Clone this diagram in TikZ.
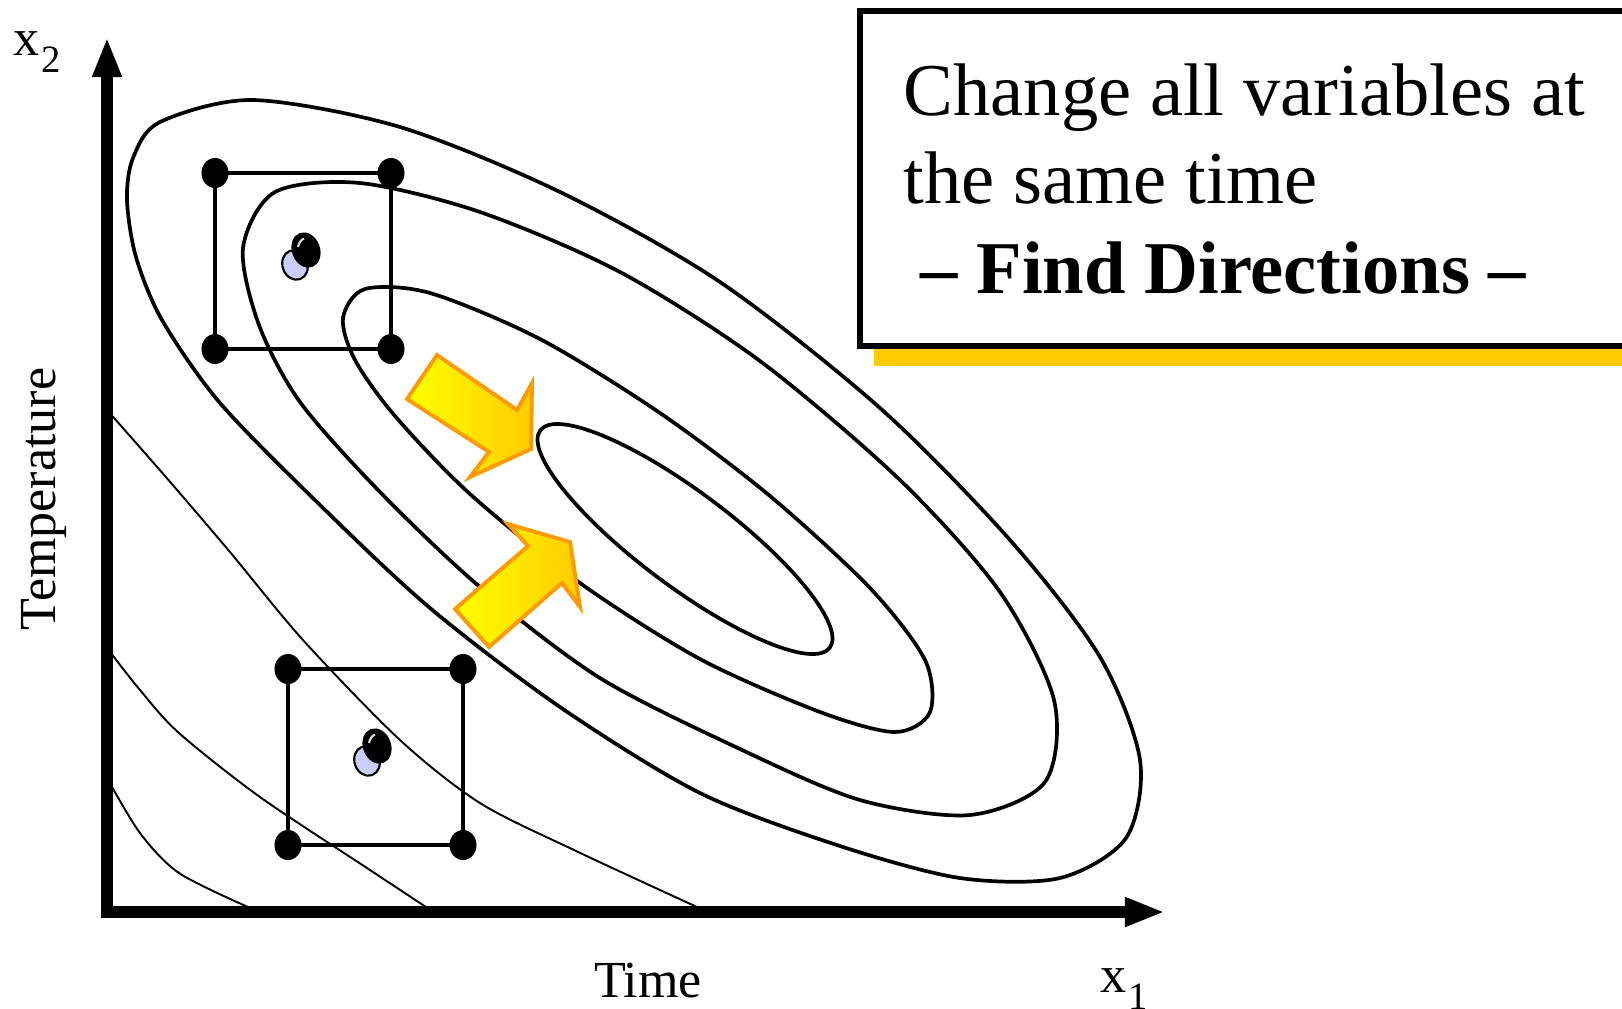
\documentclass[tikz,border=0pt]{standalone}
\usepackage{fontspec}
\setmainfont{Liberation Serif}
\usetikzlibrary{arrows.meta, shapes.geometric}
\definecolor{arrowyellow}{HTML}{FFFF00}
\definecolor{arrowgold}{HTML}{FFCC00}
\definecolor{arrowedge}{HTML}{FF9900}
\definecolor{shadowgold}{HTML}{FFCC00}
\definecolor{optlilac}{HTML}{CCCCFF}

\begin{document}
\begin{tikzpicture}[x=0.01cm, y=-0.01cm,
    contour/.style={line width=1.05pt},
    level/.style={line width=0.55pt},
    frame/.style={line width=1.2pt},
    corner/.style={ellipse, fill=black, inner sep=0pt, minimum width=0.27cm, minimum height=0.30cm},
    optbest/.style={ellipse, draw=black, fill=black, line width=0.6pt, inner sep=0pt,
                    minimum width=0.26cm, minimum height=0.34cm, rotate=20},
    optstart/.style={ellipse, draw=black, fill=optlilac, line width=0.6pt, inner sep=0pt,
                     minimum width=0.25cm, minimum height=0.30cm, rotate=20},
    shine/.style={white!70!gray, line width=0.6pt},
    push/.style={draw=arrowedge, line width=1.1pt, left color=arrowyellow, right color=arrowgold},
    axisline/.style={line width=0.12cm,
                     arrows={Triangle[length=0.4cm, width=0.27cm]-Triangle[length=0.4cm, width=0.27cm]}},
    lbl/.style={font=\fontsize{14.8}{17}\selectfont, inner sep=0pt},
    msg/.style={font=\fontsize{21.2}{25}\selectfont, inner sep=0pt, anchor=base west},
]
    \useasboundingbox (0,0) rectangle (1622,1008);

    % contour lines of the response
    \draw[contour] plot[smooth cycle] coordinates {
        (127,200) (133,158) (160,122) (253,100) (400,127) (560,192) (720,282) (880,408)
        (1010,540) (1100,657) (1140,760) (1126,838) (1060,878) (960,878)
        (840,846) (700,793) (560,707) (430,608) (320,505) (220,403) (162,320) (136,257)};
    \draw[contour] plot[smooth cycle] coordinates {
        (243,248) (275,192) (360,183) (480,212) (620,272) (760,361) (900,480)
        (1000,592) (1054,700) (1045,782) (970,815) (860,800) (740,749)
        (600,678) (480,587) (380,492) (300,402) (259,325)};
    \draw[contour] plot[smooth cycle] coordinates {
        (343,318) (365,289) (430,293) (540,339) (660,413) (770,496) (870,588)
        (925,660) (930,712) (895,732) (820,712) (700,659) (580,583) (470,494)
        (395,416) (355,360)};
    \draw[contour, rotate around={-36.9:(685,539)}] (685,539) ellipse [x radius=181, y radius=47];

    \draw[level] plot[smooth] coordinates {
        (107,410) (165,476) (230,552) (303,640) (400,740) (480,803) (574,850) (697,907)};
    \draw[level] plot[smooth] coordinates {
        (107,648) (140,690) (179,733) (260,797) (370,870) (426,907)};
    \draw[level] plot[smooth] coordinates {
        (107,778) (140,833) (179,873) (248,907)};

    % upper design
    \node[corner] (a1) at (215,173) {};
    \node[corner] (a2) at (391,173) {};
    \node[corner] (a3) at (215,349) {};
    \node[corner] (a4) at (391,349) {};
    \draw[frame] (a1.center) -- (a2.center) -- (a4.center) -- (a3.center) -- cycle;
    \node[optstart] (s1) at (295,265) {};
    \node[optbest] (m1) at (306,250) {};
    \draw[shine] ([shift={(-0.08cm,0.03cm)}]m1.center) arc[start angle=165, end angle=105, x radius=0.085cm, y radius=0.12cm];

    % lower design
    \node[corner] (b1) at (288,669) {};
    \node[corner] (b2) at (463,669) {};
    \node[corner] (b3) at (288,845) {};
    \node[corner] (b4) at (463,845) {};
    \draw[frame] (b1.center) -- (b2.center) -- (b4.center) -- (b3.center) -- cycle;
    \node[optstart] (s2) at (367,761) {};
    \node[optbest] (m2) at (377,746) {};
    \draw[shine] ([shift={(-0.08cm,0.03cm)}]m2.center) arc[start angle=165, end angle=105, x radius=0.085cm, y radius=0.12cm];

    % directions
    \path[push] (437,355) -- (517,410) -- (532,383) -- (531,449) -- (470,477) -- (489,452) -- (407,399) -- cycle;
    \path[push] (455,609) -- (528,546) -- (508,524) -- (570,542) -- (580,607) -- (562,583) -- (489,647) -- cycle;

    % axes
    \coordinate (ytip) at (107,37);
    \coordinate (xtip) at (1165,912);
    \draw[axisline] (ytip) |- (xtip);

    \node[lbl, anchor=base west] (xtwo) at (13,55) {x\kern0.03em\raisebox{-0.33em}{\fontsize{11}{12}\selectfont 2}};
    \node[lbl, anchor=base west] (xone) at (1100,992) {x\kern0.03em\raisebox{-0.33em}{\fontsize{11}{12}\selectfont 1}};
    \node[lbl, anchor=base] (timelbl) at (648,997) {Time};
    \node[lbl, anchor=base, rotate=90] (templbl) at (55,499) {Temperature};

    % message box
    \node[fill=shadowgold, inner sep=0pt, minimum width=8cm, minimum height=3.35cm, anchor=north west] (msgshadow) at (873,30) {};
    \node[draw, line width=0.055cm, fill=white, outer sep=0pt, inner sep=0pt,
          minimum width=8cm, minimum height=3.35cm, anchor=north west] (msgbox) at (860,11) {};
    \node[msg] (line1) at (903,115) {Change all variables at};
    \node[msg] (line2) at (903,203) {the same time};
    \node[msg, font=\fontsize{21.2}{25}\selectfont\bfseries] (line3) at (920,293) {-- Find Directions --};
\end{tikzpicture}
\end{document}
